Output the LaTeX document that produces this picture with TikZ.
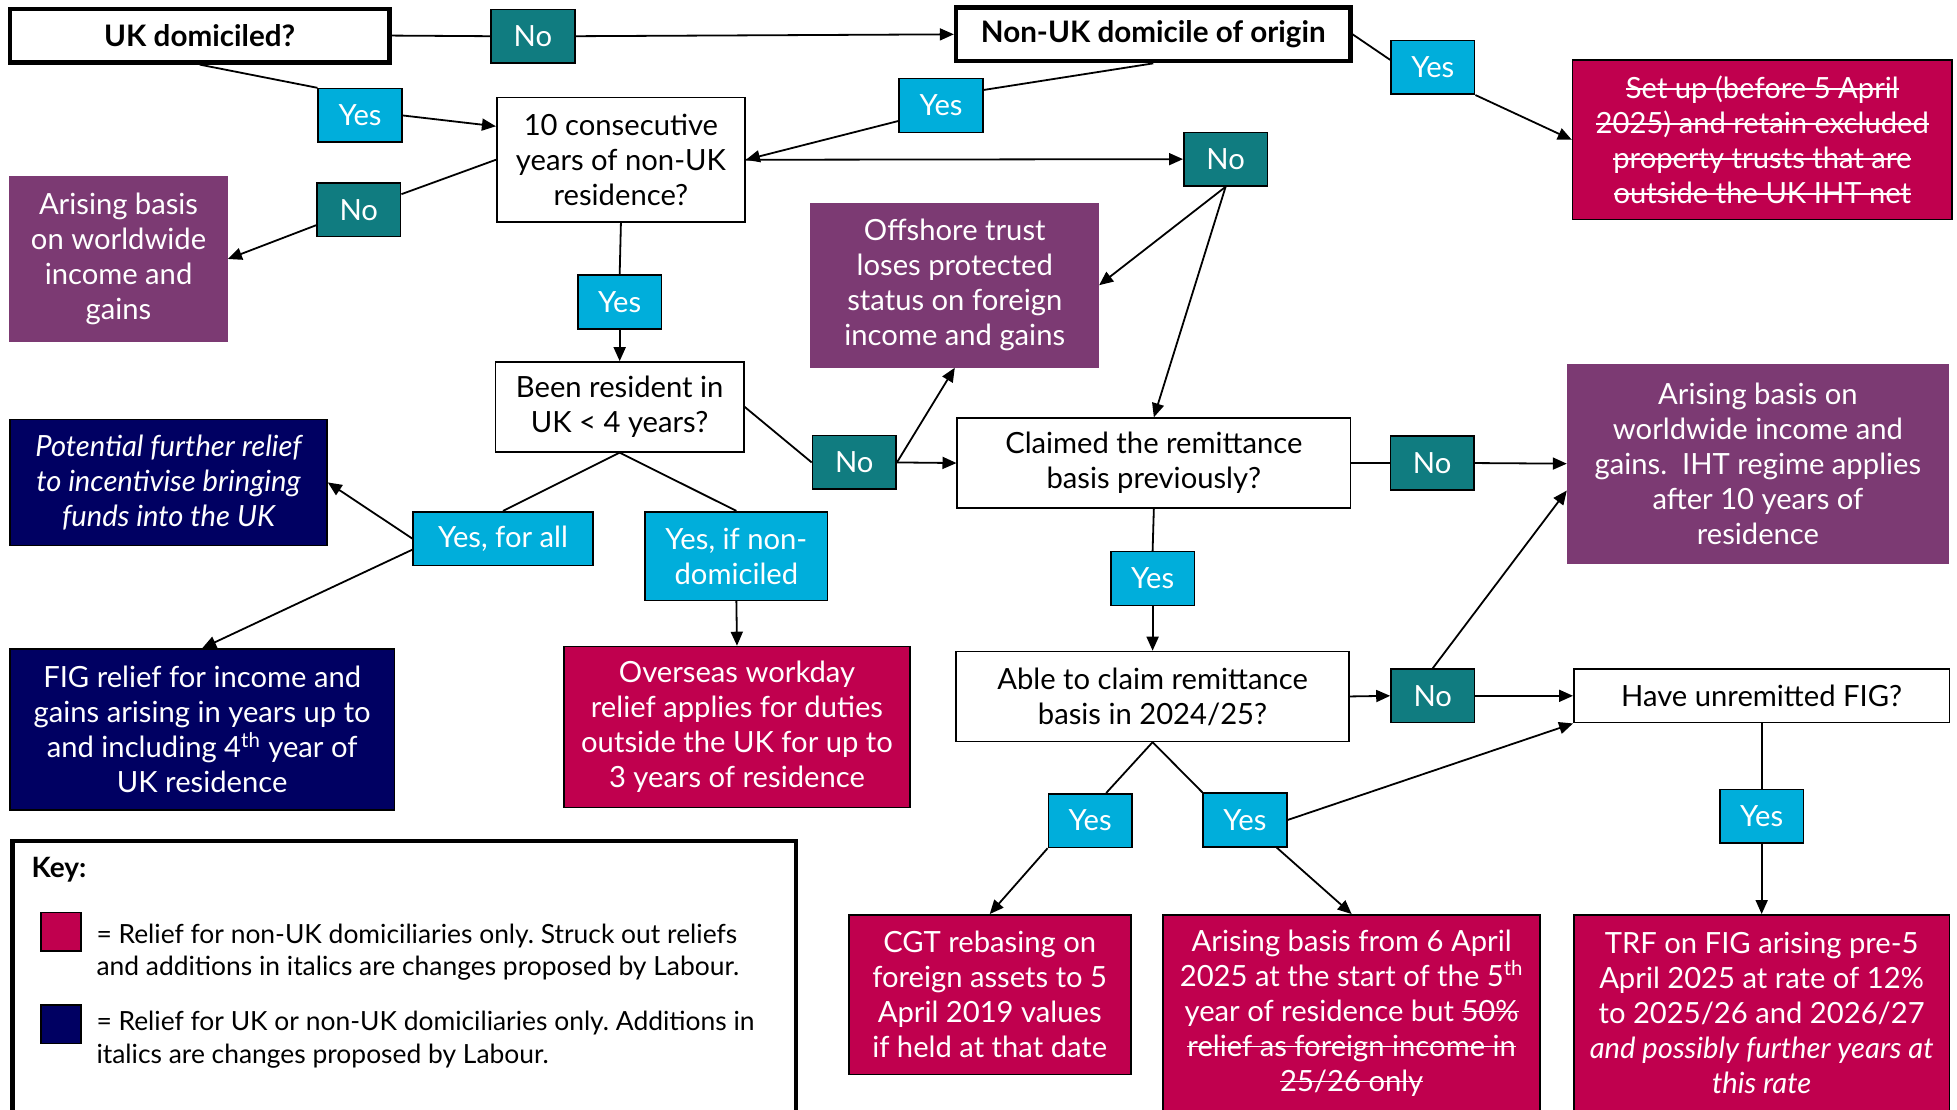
\documentclass[tikz,border=0pt]{standalone}
\usepackage{fontspec}
\setmainfont{Lato}
\usetikzlibrary{arrows.meta}
\newlength\px
\setlength\px{0.624pt}
\newcommand\strk[1]{\setbox0\hbox{#1}\rlap{\rule[0.3em]{\wd0}{0.8pt}}\box0}
\definecolor{tealno}{HTML}{107C80}
\definecolor{cyanyes}{HTML}{00AEDB}
\definecolor{purpbox}{HTML}{7C3A73}
\definecolor{redbox}{HTML}{C0004E}
\definecolor{navybox}{HTML}{000062}
\frenchspacing
\begin{document}
\begin{tikzpicture}[x=0.624pt, y=-0.624pt,
    box/.style={draw=black, line width=0.8pt, inner sep=2pt, align=center,
        font=\fontsize{14.6}{17.5}\selectfont},
    wh/.style 2 args={minimum width=#1\px, minimum height=#2\px},
    qbox/.style={box, fill=white},
    headbox/.style={box, fill=white, line width=2.2pt, font=\fontsize{14.8}{17.5}\selectfont\bfseries},
    lab/.style={box, wh={67}{43}, text=white},
    nobox/.style={lab, fill=tealno},
    yesbox/.style={lab, fill=cyanyes},
    purp/.style={box, fill=purpbox, draw=purpbox, text=white},
    redb/.style={box, fill=redbox, text=white},
    navyb/.style={box, fill=navybox, text=white},
    ln/.style={line width=0.9pt},
    arr/.style={ln, -{Triangle[length=7pt,width=6pt]}}]
    \useasboundingbox (0,0) rectangle (1568,889);
    \fill[white] (0,0) rectangle (1568,889);

    \node[headbox, wh={304}{43}] (ukdom) at (160,28.5) {UK domiciled?};
    \node[headbox, wh={316}{43}] (nonuk) at (924,27.5) {Non-UK domicile of origin};
    \node[redb, wh={304}{128}] (red1) at (1412,112) {\strk{Set up (before 5 April}\\
        \strk{2025) and retain excluded}\\ \strk{property trusts that are}\\
        \strk{outside the UK IHT net}};
    \node[qbox, wh={199}{100}] (tencon) at (497.5,128) {10 consecutive\\ years of non-UK\\ residence?};
    \node[purp, wh={174}{131}] (arising1) at (95,207.5) {Arising basis\\ on worldwide\\ income and\\ gains};
    \node[purp, wh={230}{131}] (offshore) at (765,228.5) {Offshore trust\\ loses protected\\
        status on foreign\\ income and gains};
    \node[qbox, wh={199}{72}] (beenres) at (496.5,326) {Been resident in\\ UK < 4 years?};
    \node[qbox, wh={315}{72}] (claimed) at (924.5,371) {Claimed the remittance\\ basis previously?};
    \node[purp, wh={305}{159}] (arising2) at (1408.5,371.5) {Arising basis on\\
        worldwide income and\\ gains.\ \ IHT regime applies\\ after 10 years of\\ residence};
    \node[navyb, wh={254}{101}, font=\fontsize{14.6}{17.5}\selectfont\itshape] (potential) at (135,386.5)
        {Potential further relief\\ to incentivise bringing\\ funds into the UK};
    \node[yesbox, wh={144}{43}] (yesall) at (403,431.5) {Yes, for all};
    \node[yesbox, wh={146}{71}] (yesnd) at (590,445.5) {Yes, if non-\\ domiciled};
    \node[navyb, wh={308}{129}] (fig) at (162,584.5) {FIG relief for income and\\
        gains arising in years up to\\ and including 4\textsuperscript{th} year of\\ UK residence};
    \node[redb, wh={277}{129}] (overseas) at (590.5,582.5) {Overseas workday\\
        relief applies for duties\\ outside the UK for up to\\ 3 years of residence};
    \node[qbox, wh={315}{72}] (able) at (923.5,558) {Able to claim remittance\\ basis in 2024/25?};
    \node[qbox, wh={301}{43}] (unrem) at (1411.5,557.5) {Have unremitted FIG?};
    \node[redb, wh={226}{128}] (cgt) at (793,797) {CGT rebasing on\\ foreign assets to 5\\
        April 2019 values\\ if held at that date};
    \node[redb, wh={302}{157}] (arisingfrom) at (1083,811.5) {Arising basis from 6 April\\
        2025 at the start of the 5\textsuperscript{th}\\ year of residence but \strk{50\%}\\
        \strk{relief as foreign income in}\\ \strk{25/26 only}};
    \node[redb, wh={301}{157}] (trf) at (1411.5,811.5) {TRF on FIG arising pre-5\\
        April 2025 at rate of 12\%\\ to 2025/26 and 2026/27\\
        \textit{and possibly further years at}\\ \textit{this rate}};

    \foreach \n/\x/\y in {no1/427/29, no2/982/127.5, no3/287.5/168, no4/684.5/370.5,
        no5/1147.5/371, no6/1148/557.5}
        \node[nobox] (\n) at (\x,\y) {No};
    \foreach \n/\x/\y in {yes1/288.5/92.5, yes2/754/84.5, yes3/1148/54, yes4/496.5/242,
        yes5/923.5/463.5, yes6/873.5/657.5, yes7/997.5/657, yes8/1411.5/654}
        \node[yesbox] (\n) at (\x,\y) {Yes};

    \node[box, line width=2.2pt, wh={628}{218}] (key) at (324,783) {};
    \node[anchor=west, inner sep=0pt, font=\fontsize{14}{16}\selectfont\bfseries] (keytitle) at (25,697) {Key:};
    \node[redb, wh={32}{31}, inner sep=0pt] (keyred) at (49,746.5) {};
    \node[anchor=west, inner sep=0pt, align=left, font=\fontsize{13.2}{16.2}\selectfont] (keyredtext) at (77,763)
        {= Relief for non-UK domiciliaries only. Struck out reliefs\\
        and additions in italics are changes proposed by Labour.};
    \node[navyb, wh={32}{31}, inner sep=0pt] (keynavy) at (49,820.5) {};
    \node[anchor=west, inner sep=0pt, align=left, font=\fontsize{13.2}{16.2}\selectfont] (keynavytext) at (77,833)
        {= Relief for UK or non-UK domiciliaries only. Additions in\\
        italics are changes proposed by Labour.};

    \foreach \a/\b in {ukdom.east/no1.west, ukdom.south/yes1.north west, nonuk.south/yes2.20,
        nonuk.east/yes3.170, tencon.west/no3.20, tencon.south/yes4.north, beenres.east/no4.west,
        beenres.south/yesall.north, beenres.south/yesnd.north, claimed.east/no5.west,
        claimed.south/yes5.north, able.south/yes6.60, able.south/yes7.north west,
        unrem.south/yes8.north}
        \draw[ln] (\a) -- (\b);
    \foreach \a/\b in {no1.east/nonuk.west, yes1.east/tencon.165, yes2.200/tencon.east,
        yes3.south east/red1.west, tencon.east/no2.west, no3.200/arising1.east,
        yes4.south/beenres.north, no2.south/offshore.east, no2.south/claimed.north,
        no4.east/offshore.south, no4.east/claimed.west, yesall.west/potential.east,
        yesall.187/fig.north, yesnd.south/overseas.north, no5.east/arising2.west,
        yes5.south/able.north, able.east/no6.west, no6.east/unrem.west,
        no6.north/arising2.188, yes6.south west/cgt.north, yes7.-41/arisingfrom.north,
        yes7.east/unrem.south west, yes8.south/trf.north}
        \draw[arr] (\a) -- (\b);
\end{tikzpicture}
\end{document}
